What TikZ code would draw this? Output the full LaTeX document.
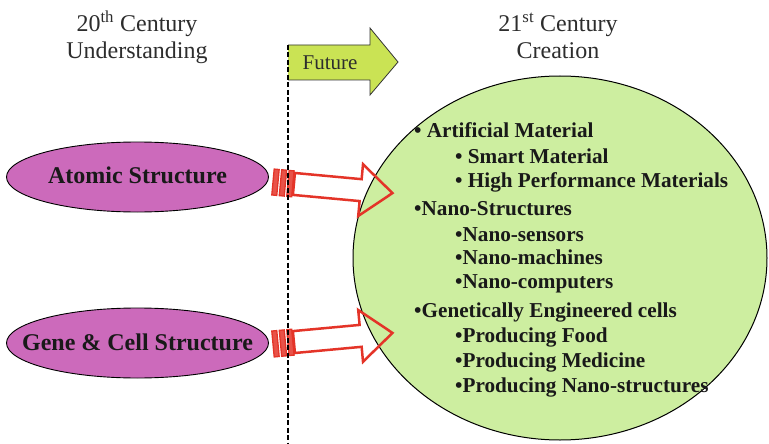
\documentclass[tikz,border=0pt]{standalone}
\usepackage{fontspec}
\setmainfont{Liberation Serif}
\usetikzlibrary{shapes.geometric}
\definecolor{ellgreen}{RGB}{205,238,160}
\definecolor{futgreen}{RGB}{202,227,84}
\definecolor{purp}{RGB}{204,106,187}
\definecolor{arrred}{RGB}{228,52,40}
\definecolor{titlegray}{RGB}{45,45,45}
\definecolor{txtdark}{RGB}{25,25,25}
\tikzset{
  titletext/.style={font=\fontsize{24}{27}\selectfont, text=titlegray, anchor=base, inner sep=0},
  purpell/.style={ellipse, draw=black, line width=0.9pt, fill=purp, minimum width=262pt, minimum height=70pt, inner sep=0},
  purptext/.style={font=\fontsize{24}{26}\selectfont\bfseries, text=txtdark, anchor=base, inner sep=0},
  greenell/.style={ellipse, draw=black, line width=1pt, fill=ellgreen, minimum width=414pt, minimum height=364pt, inner sep=0},
  itemtext/.style={font=\fontsize{21.2}{24}\selectfont\bfseries, text=txtdark, anchor=base west, inner sep=0},
  redarrow/.style={draw=arrred, line width=2.5pt, line join=miter},
  stripe/.style={draw=arrred, fill=arrred!85!white, line width=1.3pt},
  futarrow/.style={fill=futgreen},
  futedge/.style={draw=black!80, line width=0.8pt},
  divider/.style={draw=black, line width=1.8pt, dash pattern=on 5pt off 2.5pt},
}
\newcommand{\mystripedarrow}{%
  \draw[stripe] (0,-13) rectangle (5,13);
  \draw[stripe] (7.5,-13) rectangle (12.5,13);
  \draw[stripe] (15,-13) rectangle (20,13);
  \draw[redarrow] (21,-11) -- (88,-11) -- (88,-26) -- (120,0) -- (88,26) -- (88,11) -- (21,11) -- cycle;
}
\begin{document}
\begin{tikzpicture}[x=1pt,y=-1pt]
\useasboundingbox (0,0) rectangle (769,444);
% titles
\node[titletext] (t20a) at (137,32) {20\textsuperscript{th} Century};
\node[titletext] (t20b) at (137,59) {Understanding};
\node[titletext] (t21a) at (558,32) {21\textsuperscript{st} Century};
\node[titletext] (t21b) at (558,59) {Creation};
% purple ellipses
\node[purpell] (atomic) at (137.5,177) {};
\node[purptext] (atomictxt) at (137.5,183) {Atomic Structure};
\node[purpell] (gene) at (137.5,343) {};
\node[purptext] (genetxt) at (137.5,350) {Gene \& Cell Structure};
% green ellipse
\node[greenell] (creation) at (560,258) {};
% red arrows
\begin{scope}[shift={(273,182)}, rotate=-5.3]
  \coordinate (a1tail) at (0,0);
  \mystripedarrow
\end{scope}
\begin{scope}[shift={(273,344)}, rotate=5.3]
  \coordinate (a2tail) at (0,0);
  \mystripedarrow
\end{scope}
% future arrow
\fill[futarrow] (288,45) -- (370,45) -- (370,28) -- (398,62) -- (370,95) -- (370,80) -- (288,80) -- cycle;
\draw[futedge] (288,45) -- (370,45) -- (370,28) -- (398,62) -- (370,95) -- (370,80) -- (288,80);
\node[font=\fontsize{21}{24}\selectfont, text=titlegray, anchor=base, inner sep=0] (future) at (330,70) {Future};
% divider
\draw[divider] (288,45) -- (288,444);
% items
\node[itemtext] (i1) at (414,137) {• Artificial Material};
\node[itemtext] (i2) at (455,163) {• Smart Material};
\node[itemtext] (i3) at (455,187) {• High Performance Materials};
\node[itemtext] (i4) at (414,215) {•Nano-Structures};
\node[itemtext] (i5) at (455,241) {•Nano-sensors};
\node[itemtext] (i6) at (455,264) {•Nano-machines};
\node[itemtext] (i7) at (455,288) {•Nano-computers};
\node[itemtext] (i8) at (414,317) {•Genetically Engineered cells};
\node[itemtext] (i9) at (455,342) {•Producing Food};
\node[itemtext] (i10) at (455,367) {•Producing Medicine};
\node[itemtext] (i11) at (455,392) {•Producing Nano-structures};
\end{tikzpicture}
\end{document}
